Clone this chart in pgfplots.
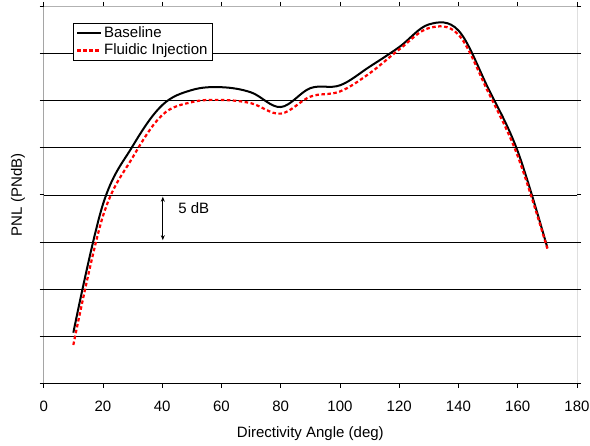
\documentclass[border=0pt]{standalone}
\usepackage{pgfplots}
\pgfplotsset{compat=1.18}
\usetikzlibrary{arrows.meta}
\usepackage{fontspec}
\setmainfont{Liberation Sans}
\pgfplotstableread{
deg base
10  5.4
20  19.0
30  25.15
40  29.5
50  31.1
60  31.4
70  30.85
80  29.3
90  31.3
100 31.6
110 33.57
120 35.65
130 38.05
140 37.4
150 31.3
160 24.6
170 14.4
}\baseline
\pgfplotstableread{
deg fi
10  4.1
20  17.75
30  23.95
40  28.45
50  29.82
60  30.05
70  29.7
80  28.6
90  30.4
100 30.95
110 32.87
120 35.4
130 37.66
140 36.96
150 30.9
160 24.1
170 14.3
}\fluidic
\begin{document}
\begin{tikzpicture}
\fontsize{15}{18}\selectfont
\begin{axis}[
  scale only axis,
  width=533.3pt, height=377.7pt,
  xmin=0, xmax=180, ymin=0, ymax=40,
  xtick={0,20,...,180},
  ytick={0,5,...,40},
  yticklabels={},
  tick align=outside,
  major tick length=4pt,
  tick style={black, line width=0.8pt},
  ymajorgrids,
  grid style={black, line width=0.6pt},
  axis line style={draw=none},
  /pgf/number format/assume math mode=true,
  tick label style={font=\fontsize{15}{18}\selectfont},
  xticklabel style={inner sep=0pt, yshift=-13.5pt},
  xlabel={Directivity Angle (deg)},
  ylabel={PNL (PNdB)},
  label style={font=\fontsize{15}{18}\selectfont},
  xlabel style={at={(axis description cs:0.5,0)}, anchor=center, yshift=-50pt},
  ylabel style={at={(axis description cs:0,0.5)}, anchor=center, yshift=25.7pt},
  legend style={at={(0.055,0.955)}, anchor=north west, draw=black, line width=0.8pt,
    font=\fontsize{15}{18}\selectfont, inner xsep=2.5pt, inner ysep=1.5pt,
    nodes={inner sep=2pt}, row sep=0pt},
  legend cell align=left,
  legend image code/.code={\draw[#1] (0pt,0pt) -- (24pt,0pt);},
]
\addplot[black, line width=2pt, smooth, tension=0.6] table[x=deg, y=base] {\baseline};
\addlegendentry{Baseline}
\addplot[red, line width=2.2pt, dash pattern=on 3.5pt off 2.5pt, smooth, tension=0.6] table[x=deg, y=fi] {\fluidic};
\addlegendentry{Fluidic Injection}
\draw[black, line width=0.9pt] (rel axis cs:0,1) -- (rel axis cs:0,0) -- (rel axis cs:1,0) -- (rel axis cs:1,1);
\draw[gray!60, line width=0.9pt] (rel axis cs:0,1) -- (rel axis cs:1,1);
\draw[black, line width=0.7pt, {Stealth[length=5pt,width=4pt]}-{Stealth[length=5pt,width=4pt]}] (axis cs:40.2,15.2) -- (axis cs:40.2,19.8);
\node[anchor=west, inner sep=0pt, font=\fontsize{15}{18}\selectfont] at (axis cs:45.4,18.6) {5 dB};
\end{axis}
\path ([shift={(-43.7pt,-56.3pt)}]current axis.south west) rectangle ([shift={(13pt,6pt)}]current axis.north east);
\end{tikzpicture}
\end{document}
